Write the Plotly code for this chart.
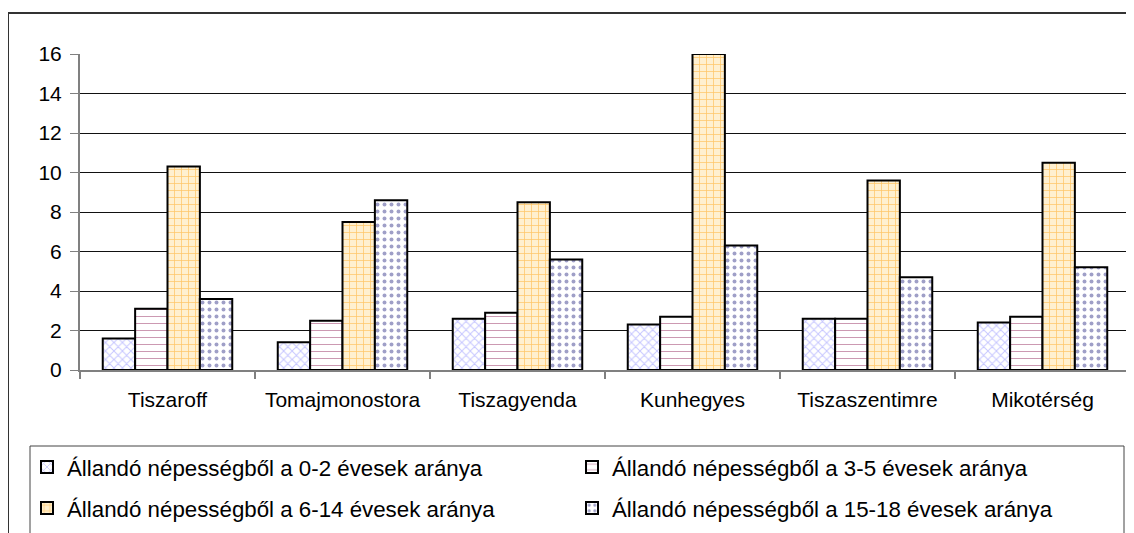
import plotly.graph_objects as go

categories = ["Tiszaroff", "Tomajmonostora", "Tiszagyenda", "Kunhegyes", "Tiszaszentimre", "Mikotérség"]
series_names = [
    "Állandó népességből a 0-2 évesek aránya",
    "Állandó népességből a 3-5 évesek aránya",
    "Állandó népességből a 6-14 évesek aránya",
    "Állandó népességből a 15-18 évesek aránya",
]
age_0_2 = [1.6, 1.4, 2.6, 2.3, 2.6, 2.4]
age_3_5 = [3.1, 2.5, 2.9, 2.7, 2.6, 2.7]
age_6_14 = [10.3, 7.5, 8.5, 16.0, 9.6, 10.5]
age_15_18 = [3.6, 8.6, 5.6, 6.3, 4.7, 5.2]
y_ticks = [0, 2, 4, 6, 8, 10, 12, 14, 16]

values = [age_0_2, age_3_5, age_6_14, age_15_18]
patterns = [
    dict(shape="x", fgcolor="#8c8cff", bgcolor="white", size=6, solidity=0.3),
    dict(shape="-", fgcolor="#993366", bgcolor="white", size=7, solidity=0.15),
    dict(shape="+", fgcolor="#ff9900", bgcolor="#fff0d0", size=7, solidity=0.2),
    dict(shape=".", fgcolor="#3f3f90", bgcolor="white", size=7, solidity=0.25),
]
legends = ["legend", "legend", "legend2", "legend2"]

fig = go.Figure()
for name, vals, pat, lg in zip(series_names, values, patterns, legends):
    fig.add_trace(go.Bar(
        x=categories, y=vals, name=name,
        marker=dict(color="white", pattern=pat, line=dict(color="black", width=2)),
        legend=lg,
    ))

# page body has an 8px margin; work in reference pixel coords and shift
OFF = 8
W, H = 1134 - OFF, 533 - OFF
L, R = 80 - OFF, 4
T = 54 - OFF
B = H - (370 - OFF)
pw = W - L - R
ph = H - T - B

def px_x(p):
    return (p - OFF - L) / pw

def px_y(p):
    return (H - B - (p - OFF)) / ph

font_family = "Liberation Sans, Arial, sans-serif"

fig.update_layout(
    width=W, height=H,
    margin=dict(l=L, r=R, t=T, b=B),
    paper_bgcolor="white", plot_bgcolor="white",
    barmode="group", bargap=0.26, bargroupgap=0,
    font=dict(family=font_family, color="black"),
    showlegend=True,
    legend=dict(orientation="h", x=px_x(27), xanchor="left", y=px_y(467), yanchor="middle",
                font=dict(size=22.3, family=font_family), entrywidth=500, entrywidthmode="pixels",
                bgcolor="rgba(0,0,0,0)", traceorder="normal"),
    legend2=dict(orientation="h", x=px_x(27), xanchor="left", y=px_y(508), yanchor="middle",
                 font=dict(size=22.3, family=font_family), entrywidth=500, entrywidthmode="pixels",
                 bgcolor="rgba(0,0,0,0)", traceorder="normal"),
    xaxis=dict(
        tickfont=dict(size=21, family=font_family), showline=True, linecolor="#808080", linewidth=2,
        ticks="outside", tickson="boundaries", ticklen=7, tickcolor="#808080", tickwidth=2,
        showgrid=False, ticklabelstandoff=10,
    ),
    yaxis=dict(
        range=[0, 16], tickvals=y_ticks, tickfont=dict(size=21, family=font_family),
        showline=True, linecolor="#808080", linewidth=2,
        ticks="outside", ticklen=8, tickcolor="#808080", tickwidth=1,
        showgrid=True, gridcolor="#111111", gridwidth=1, zeroline=False,
        ticklabelstandoff=4,
    ),
    shapes=[
        dict(type="rect", xref="paper", yref="paper",
             x0=px_x(8), x1=px_x(1133), y0=px_y(560), y1=px_y(13),
             line=dict(color="#333333", width=2), fillcolor="rgba(0,0,0,0)", layer="below"),
        dict(type="rect", xref="paper", yref="paper",
             x0=px_x(30), x1=px_x(1124), y0=px_y(560), y1=px_y(446),
             line=dict(color="#444444", width=1), fillcolor="rgba(0,0,0,0)", layer="below"),
    ],
)

fig.write_html("out.html")
